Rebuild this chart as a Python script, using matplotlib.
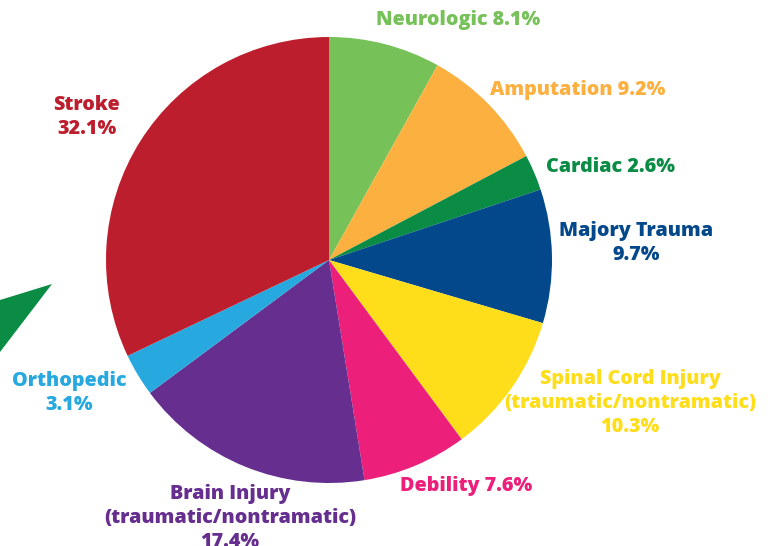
import matplotlib
matplotlib.use("Agg")
from matplotlib import pyplot as plt
from matplotlib.patches import Polygon

plt.rcParams['font.family'] = ['Open Sans', 'DejaVu Sans']

# donnees (sens horaire depuis le haut)
categories = ["Neurologic", "Amputation", "Cardiac", "Majory Trauma",
              "Spinal Cord Injury\n(traumatic/nontramatic)", "Debility",
              "Brain Injury\n(traumatic/nontramatic)", "Orthopedic", "Stroke"]
valeurs = [8.1, 9.2, 2.6, 9.7, 10.3, 7.6, 17.4, 3.1, 32.1]
couleurs = ["#77c159", "#fbb040", "#0a8c44", "#03488b", "#fedd1b",
            "#ec207b", "#652e8f", "#27a9e0", "#bd1e2d"]

# position du texte (px), alignement
etiquettes = [
    ("{} {}%", 376, 20, "left"),
    ("{} {}%", 490, 90, "left"),
    ("{} {}%", 546, 167, "left"),
    ("{}\n{}%", 636, 243, "center"),
    ("{}\n{}%", 630, 403, "center"),
    ("{} {}%", 400, 486, "left"),
    ("{}\n{}%", 230, 518, "center"),
    ("{}\n{}%", 69, 393, "center"),
    ("{}\n{}%", 87, 117, "center"),
]

W, H = 769, 546
fig = plt.figure(figsize=(W/100, H/100), dpi=100)
ax = fig.add_axes([0, 0, 1, 1])

# triangle vert decoratif a gauche
ax.add_patch(Polygon([(0, H-300), (52, H-284), (0, H-352)], closed=True,
                     facecolor="#0a8c44", edgecolor='none'))

ax.pie(valeurs, colors=couleurs, startangle=90, counterclock=False,
       center=(329, H-260), radius=223, frame=True,
       wedgeprops=dict(linewidth=0))
ax.set_xlim(0, W)
ax.set_ylim(0, H)
ax.set_aspect('equal')
ax.axis('off')

for cat, val, c, (fmt, x, y, ha) in zip(categories, valeurs, couleurs, etiquettes):
    ax.text(x, H-y, fmt.format(cat, val), color=c, fontsize=14.2,
            fontweight='heavy', ha=ha, va='center', multialignment='center',
            linespacing=1.27)

fig.savefig("out.png", dpi=100)
